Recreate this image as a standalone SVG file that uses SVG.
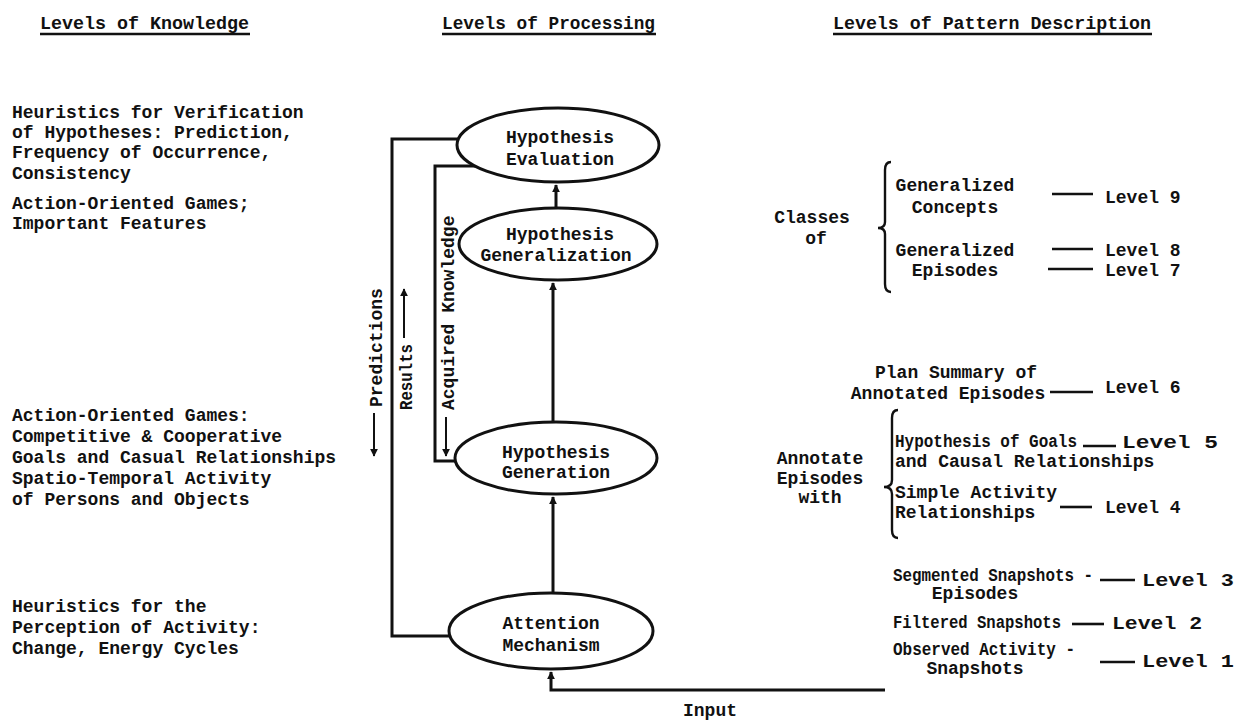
<svg xmlns="http://www.w3.org/2000/svg" width="1240" height="723" viewBox="0 0 1240 723">
<style>
.t{font-family:"Liberation Mono","DejaVu Sans Mono",monospace;font-weight:bold;font-size:18px;fill:#111}
.h{font-family:"Liberation Mono","DejaVu Sans Mono",monospace;font-weight:bold;font-size:19px;fill:#111}
.c{text-anchor:middle}
.ln{stroke:#111;stroke-width:3;fill:none}
.lv{stroke:#111;stroke-width:2.6;fill:none}
.ar{stroke:#111;stroke-width:2;fill:none}
.el{fill:#fff;stroke:#111;stroke-width:3}
.br{stroke:#111;stroke-width:2.4;fill:none}
</style>
<defs>
<marker id="ah" viewBox="0 0 10 10" refX="9" refY="5" markerWidth="8" markerHeight="8" markerUnits="userSpaceOnUse" orient="auto">
<path d="M0,0 L10,5 L0,10 z" fill="#111"/>
</marker>
</defs>
<rect width="1240" height="723" fill="#fff"/>

<g id="headings">
<text class="h" x="40" y="29" textLength="209" lengthAdjust="spacingAndGlyphs">Levels of Knowledge</text>
<line class="lv" x1="40" y1="34" x2="250" y2="34"/>
<text class="h" x="442" y="29" textLength="213" lengthAdjust="spacingAndGlyphs">Levels of Processing</text>
<line class="lv" x1="442" y1="34" x2="656" y2="34"/>
<text class="h" x="833" y="29" textLength="318" lengthAdjust="spacingAndGlyphs">Levels of Pattern Description</text>
<line class="lv" x1="833" y1="34" x2="1152" y2="34"/>
</g>

<g id="knowledge">
<text class="t" x="12" y="118">Heuristics for Verification</text>
<text class="t" x="12" y="138">of Hypotheses: Prediction,</text>
<text class="t" x="12" y="158">Frequency of Occurrence,</text>
<text class="t" x="12" y="179">Consistency</text>
<text class="t" x="12" y="209">Action-Oriented Games;</text>
<text class="t" x="12" y="229">Important Features</text>
<text class="t" x="12" y="421">Action-Oriented Games:</text>
<text class="t" x="12" y="442">Competitive &amp; Cooperative</text>
<text class="t" x="12" y="463">Goals and Casual Relationships</text>
<text class="t" x="12" y="484">Spatio-Temporal Activity</text>
<text class="t" x="12" y="505">of Persons and Objects</text>
<text class="t" x="12" y="612">Heuristics for the</text>
<text class="t" x="12" y="633">Perception of Activity:</text>
<text class="t" x="12" y="654">Change, Energy Cycles</text>
</g>

<g id="connectors">
<polyline class="ln" points="458,139 392,139 392,636 450,636"/>
<polyline class="ln" points="475,166 435,166 435,461 455,461"/>
<line class="ln" x1="553" y1="593" x2="553" y2="497" marker-end="url(#ah)"/>
<line class="ln" x1="553" y1="422" x2="553" y2="283" marker-end="url(#ah)"/>
<line class="ln" x1="556" y1="208" x2="556" y2="185" marker-end="url(#ah)"/>
<polyline class="ln" points="885,690 551,690 551,672" marker-end="url(#ah)"/>
<line class="ar" x1="374" y1="413" x2="374" y2="456" marker-end="url(#ah)"/>
<line class="ar" x1="404" y1="338" x2="404" y2="289" marker-end="url(#ah)"/>
<line class="ar" x1="446" y1="417" x2="446" y2="456" marker-end="url(#ah)"/>
<text class="t" transform="translate(382,407) rotate(-90)">Predictions</text>
<text class="t" transform="translate(412,410) rotate(-90)" textLength="66" lengthAdjust="spacingAndGlyphs">Results</text>
<text class="t" transform="translate(454,410) rotate(-90)">Acquired Knowledge</text>
<text class="t c" x="710" y="716">Input</text>
</g>

<g id="evaluation">
<ellipse class="el" cx="558" cy="145" rx="101" ry="37"/>
<text class="t c" x="560" y="143">Hypothesis</text>
<text class="t c" x="560" y="165">Evaluation</text>
</g>
<g id="generalization">
<ellipse class="el" cx="558" cy="244" rx="99" ry="36"/>
<text class="t c" x="560" y="240">Hypothesis</text>
<text class="t c" x="556" y="261">Generalization</text>
</g>
<g id="generation">
<ellipse class="el" cx="556" cy="458" rx="101" ry="36"/>
<text class="t c" x="556" y="458">Hypothesis</text>
<text class="t c" x="556" y="478">Generation</text>
</g>
<g id="attention">
<ellipse class="el" cx="551" cy="631" rx="102" ry="38"/>
<text class="t c" x="551" y="629">Attention</text>
<text class="t c" x="551" y="651">Mechanism</text>
</g>

<g id="classes">
<text class="t c" x="812" y="223">Classes</text>
<text class="t c" x="816" y="244">of</text>
<path class="br" d="M891,162 Q885,162 885,170 L885,222 Q885,228 878,228 Q885,228 885,234 L885,284 Q885,292 891,292"/>
<text class="t c" x="955" y="191">Generalized</text>
<text class="t c" x="955" y="213">Concepts</text>
<text class="t c" x="955" y="256">Generalized</text>
<text class="t c" x="955" y="276">Episodes</text>
<line class="lv" x1="1052" y1="194" x2="1093" y2="194"/>
<text class="t" x="1105" y="203">Level 9</text>
<line class="lv" x1="1052" y1="249" x2="1093" y2="249"/>
<text class="t" x="1105" y="256">Level 8</text>
<line class="lv" x1="1048" y1="269" x2="1093" y2="269"/>
<text class="t" x="1105" y="276">Level 7</text>
</g>

<g id="plan">
<text class="t c" x="956" y="378">Plan Summary of</text>
<text class="t c" x="948" y="399">Annotated Episodes</text>
<line class="lv" x1="1050" y1="392" x2="1093" y2="392"/>
<text class="t" x="1105" y="393">Level 6</text>
</g>

<g id="annotate">
<text class="t c" x="820" y="464">Annotate</text>
<text class="t c" x="820" y="484">Episodes</text>
<text class="t c" x="820" y="503">with</text>
<path class="br" d="M898,410 Q892,410 892,418 L892,480 Q892,487 884,487 Q892,487 892,494 L892,530 Q892,538 898,538"/>
<text class="t" x="895" y="447" textLength="182" lengthAdjust="spacingAndGlyphs">Hypothesis of Goals</text>
<line class="lv" x1="1083" y1="446" x2="1116" y2="446"/>
<text class="t" x="1122" y="448" textLength="96" lengthAdjust="spacingAndGlyphs">Level 5</text>
<text class="t" x="895" y="467">and Causal Relationships</text>
<text class="t" x="895" y="498">Simple Activity</text>
<text class="t" x="895" y="518">Relationships</text>
<line class="lv" x1="1060" y1="507" x2="1092" y2="507"/>
<text class="t" x="1105" y="513">Level 4</text>
</g>

<g id="snapshots">
<text class="t" x="893" y="581" textLength="200" lengthAdjust="spacingAndGlyphs">Segmented Snapshots -</text>
<text class="t c" x="975" y="599">Episodes</text>
<line class="lv" x1="1100" y1="580" x2="1135" y2="580"/>
<text class="t" x="1142" y="586" textLength="92" lengthAdjust="spacingAndGlyphs">Level 3</text>
<text class="t" x="893" y="628" textLength="168" lengthAdjust="spacingAndGlyphs">Filtered Snapshots</text>
<line class="lv" x1="1072" y1="624" x2="1104" y2="624"/>
<text class="t" x="1112" y="629" textLength="90" lengthAdjust="spacingAndGlyphs">Level 2</text>
<text class="t" x="893" y="655" textLength="182" lengthAdjust="spacingAndGlyphs">Observed Activity -</text>
<text class="t c" x="975" y="674">Snapshots</text>
<line class="lv" x1="1100" y1="662" x2="1135" y2="662"/>
<text class="t" x="1142" y="667" textLength="92" lengthAdjust="spacingAndGlyphs">Level 1</text>
</g>
</svg>
